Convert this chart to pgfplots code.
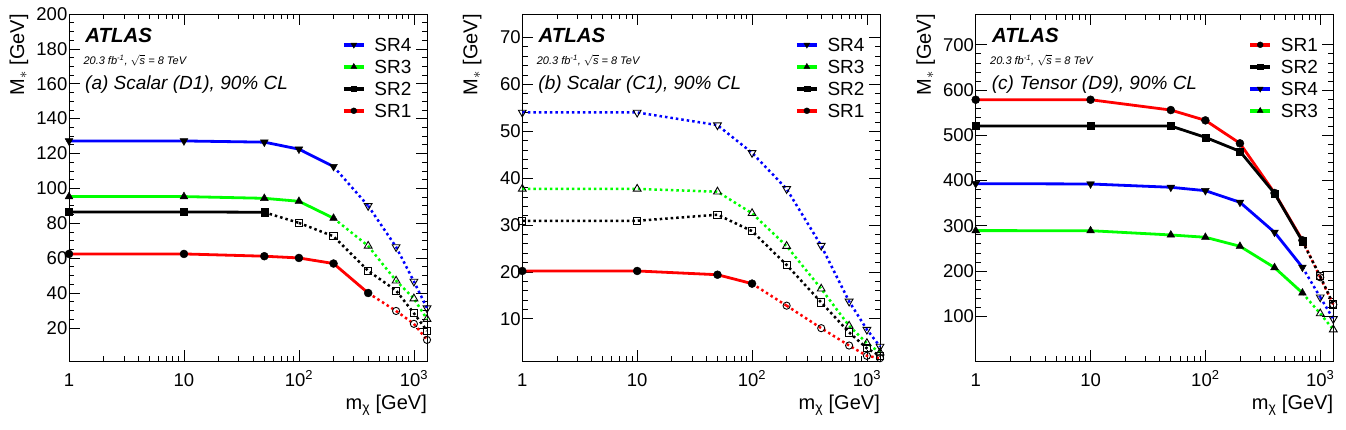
\documentclass[border=0pt]{standalone}
\usepackage{fontspec}
\setmainfont{Liberation Sans}
\usepackage{pgfplots}
\pgfplotsset{compat=1.18}
\definecolor{rblue}{RGB}{0,0,255}
\definecolor{rgreen}{RGB}{0,255,0}
\definecolor{rred}{RGB}{255,0,0}
\pgfplotsset{
  legend image code/.code={\draw[mark repeat=2,mark phase=2,#1] plot coordinates {(0pt,0pt) (10pt,0pt) (20pt,0pt)}; \path (28.7pt,0pt);},
  sl/.style={line width=2.8pt, forget plot, every mark/.append style={solid, black, fill=black, line width=0.4pt}},
  dl/.style={line width=2.5pt, dash pattern=on 2.5pt off 3pt, forget plot, every mark/.append style={solid, black, fill=none, line width=0.9pt}},
  lg/.style={line width=4pt, every mark/.append style={solid, black, fill=black, line width=0.3pt}},
  dn/.style={mark=triangle*, mark size=4.5pt, every mark/.append style={rotate=180}},
  dno/.style={mark=triangle, mark size=4.5pt, every mark/.append style={rotate=180}},
  upf/.style={mark=triangle*, mark size=4.5pt},
  upo/.style={mark=triangle, mark size=4.5pt},
  sqf/.style={mark=square*, mark size=3.6pt},
  sqo/.style={mark=square, mark size=3.6pt},
  cif/.style={mark=*, mark size=4pt},
  cio/.style={mark=o, mark size=3.6pt},
}
\newcommand{\panellabels}[1]{%
  \node[anchor=base west, inner sep=0pt, font=\fontsize{20.5}{22}\selectfont\bfseries\itshape] at (rel axis cs:0.045,0.917) {ATLAS};
  \node[anchor=base west, inner sep=0pt, font=\fontsize{11}{12}\selectfont\itshape] at (rel axis cs:0.04,0.855) {20.3 fb\textsuperscript{-1}, $\sqrt{\textit{s}}$ = 8 TeV};
  \node[anchor=base west, inner sep=0pt, font=\fontsize{19}{21}\selectfont\itshape] at (rel axis cs:0.0447,0.781) {#1};
}
\begin{document}
\begin{tikzpicture}
\useasboundingbox (0,0) rectangle (1346pt,429pt);
% ---------------- panel (a)
\begin{axis}[scale only axis, width=358pt, height=347pt, at={(69pt,68pt)}, anchor=south west,
    xmode=log, xmin=1, xmax=1300,
    xtick={1,10,100,1000},
    xticklabels={1,10,{10\textsuperscript{2}},{10\textsuperscript{3}}},
    tick label style={font=\fontsize{18.5}{20}\selectfont},
    /pgf/number format/assume math mode=true,
    yticklabel style={inner xsep=1.5pt},
    xticklabel style={anchor=base, yshift=-25pt},
    major tick length=11pt, minor tick length=5.5pt,
    every tick/.style={black, line width=0.7pt},
    axis line style={line width=0.8pt},
    clip=false,
    xlabel={m\textsubscript{χ} [GeV]},
    ylabel={M$_\ast$ [GeV]},
    label style={font=\fontsize{20}{22}\selectfont, inner sep=0pt},
    xlabel style={at={(rel axis cs:1,-0.127)}, anchor=east},
    ylabel style={at={(rel axis cs:-0.14,1)}, anchor=east},
    legend cell align=left,
    legend style={at={(rel axis cs:0.762,0.943)}, anchor=north west, draw=none, fill=none,
      inner sep=0pt, outer sep=0pt, font=\fontsize{19}{20}\selectfont, row sep=0pt, column sep=0pt,
      nodes={inner xsep=0pt, inner ysep=4pt, text height=14pt, text depth=0pt}},
    ymin=1, ymax=200, ytick={20,40,...,200}, minor y tick num=3]
\addplot[sl, rblue, dn] coordinates {(1,127.2)(10,127.2)(50,126.5)(100,122.5)(200,112.5)};
\addplot[dl, rblue, dno] coordinates {(400,90)(700,66.4)(1000,46.6)(1300,31.3)};
\addplot[dl, rblue, mark=none] coordinates {(200,112.5)(400,90)};
\addplot[sl, rgreen, upf] coordinates {(1,95.3)(10,95.3)(50,94.3)(100,92.6)(200,82.9)};
\addplot[dl, rgreen, upo] coordinates {(400,67)(700,47)(1000,36.8)(1300,25)};
\addplot[dl, rgreen, mark=none] coordinates {(200,82.9)(400,67)};
\addplot[sl, black, sqf] coordinates {(1,86.5)(10,86.5)(50,86.3)};
\addplot[dl, black, sqo] coordinates {(100,80.2)(200,72.5)(400,52.7)(700,41.4)(1000,28.4)(1300,18.3)};
\addplot[dl, black, mark=none] coordinates {(50,86.3)(100,80.2)};
\addplot[sl, rred, cif] coordinates {(1,62.4)(10,62.4)(50,61.1)(100,60.1)(200,56.9)(400,40)};
\addplot[dl, rred, cio] coordinates {(700,29.7)(1000,22.3)(1300,13.1)};
\addplot[dl, rred, mark=none] coordinates {(400,40)(700,29.7)};
\addlegendimage{lg, rblue, mark=triangle*, mark size=3.5pt, every mark/.append style={rotate=180}}
\addlegendentry{SR4}
\addlegendimage{lg, rgreen, mark=triangle*, mark size=3.5pt}
\addlegendentry{SR3}
\addlegendimage{lg, black, mark=square*, mark size=2.8pt}
\addlegendentry{SR2}
\addlegendimage{lg, rred, mark=*, mark size=3pt}
\addlegendentry{SR1}
\panellabels{(a) Scalar (D1), 90\% CL}
\end{axis}
% ---------------- panel (b)
\begin{axis}[scale only axis, width=357.7pt, height=347pt, at={(522.3pt,68pt)}, anchor=south west,
    xmode=log, xmin=1, xmax=1300,
    xtick={1,10,100,1000},
    xticklabels={1,10,{10\textsuperscript{2}},{10\textsuperscript{3}}},
    tick label style={font=\fontsize{18.5}{20}\selectfont},
    /pgf/number format/assume math mode=true,
    yticklabel style={inner xsep=1.5pt},
    xticklabel style={anchor=base, yshift=-25pt},
    major tick length=11pt, minor tick length=5.5pt,
    every tick/.style={black, line width=0.7pt},
    axis line style={line width=0.8pt},
    clip=false,
    xlabel={m\textsubscript{χ} [GeV]},
    ylabel={M$_\ast$ [GeV]},
    label style={font=\fontsize{20}{22}\selectfont, inner sep=0pt},
    xlabel style={at={(rel axis cs:1,-0.127)}, anchor=east},
    ylabel style={at={(rel axis cs:-0.14,1)}, anchor=east},
    legend cell align=left,
    legend style={at={(rel axis cs:0.762,0.943)}, anchor=north west, draw=none, fill=none,
      inner sep=0pt, outer sep=0pt, font=\fontsize{19}{20}\selectfont, row sep=0pt, column sep=0pt,
      nodes={inner xsep=0pt, inner ysep=4pt, text height=14pt, text depth=0pt}},
    ymin=1, ymax=75, ytick={10,20,...,70}, minor y tick num=4]
\addplot[dl, rblue, dno] coordinates {(1,54.0)(10,54.0)(50,51.3)(100,45.4)(200,37.7)(400,25.6)(700,13.7)(1000,7.7)(1300,4.1)};
\addplot[dl, rgreen, upo] coordinates {(1,37.7)(10,37.7)(50,37.1)(100,32.5)(200,25.5)(400,16.4)(700,8.5)(1000,4.8)(1300,2.8)};
\addplot[dl, black, sqo] coordinates {(1,30.9)(10,30.9)(50,32.2)(100,28.7)(200,21.5)(400,13.5)(700,7.1)(1000,3.7)(1300,2.1)};
\addplot[sl, rred, cif] coordinates {(1,20.2)(10,20.2)(50,19.4)(100,17.5)};
\addplot[dl, rred, cio] coordinates {(200,12.8)(400,8.0)(700,4.3)(1000,2.1)(1300,1.6)};
\addplot[dl, rred, mark=none] coordinates {(100,17.5)(200,12.8)};
\addlegendimage{lg, rblue, mark=triangle*, mark size=3.5pt, every mark/.append style={rotate=180}}
\addlegendentry{SR4}
\addlegendimage{lg, rgreen, mark=triangle*, mark size=3.5pt}
\addlegendentry{SR3}
\addlegendimage{lg, black, mark=square*, mark size=2.8pt}
\addlegendentry{SR2}
\addlegendimage{lg, rred, mark=*, mark size=3pt}
\addlegendentry{SR1}
\panellabels{(b) Scalar (C1), 90\% CL}
\end{axis}
% ---------------- panel (c)
\begin{axis}[scale only axis, width=357.6pt, height=347pt, at={(975.7pt,68pt)}, anchor=south west,
    xmode=log, xmin=1, xmax=1300,
    xtick={1,10,100,1000},
    xticklabels={1,10,{10\textsuperscript{2}},{10\textsuperscript{3}}},
    tick label style={font=\fontsize{18.5}{20}\selectfont},
    /pgf/number format/assume math mode=true,
    yticklabel style={inner xsep=1.5pt},
    xticklabel style={anchor=base, yshift=-25pt},
    major tick length=11pt, minor tick length=5.5pt,
    every tick/.style={black, line width=0.7pt},
    axis line style={line width=0.8pt},
    clip=false,
    xlabel={m\textsubscript{χ} [GeV]},
    ylabel={M$_\ast$ [GeV]},
    label style={font=\fontsize{20}{22}\selectfont, inner sep=0pt},
    xlabel style={at={(rel axis cs:1,-0.127)}, anchor=east},
    ylabel style={at={(rel axis cs:-0.14,1)}, anchor=east},
    legend cell align=left,
    legend style={at={(rel axis cs:0.762,0.943)}, anchor=north west, draw=none, fill=none,
      inner sep=0pt, outer sep=0pt, font=\fontsize{19}{20}\selectfont, row sep=0pt, column sep=0pt,
      nodes={inner xsep=0pt, inner ysep=4pt, text height=14pt, text depth=0pt}},
    ymin=1, ymax=768, ytick={100,200,...,700}, minor y tick num=4]
\addplot[sl, rred, cif] coordinates {(1,578.5)(10,578.5)(50,555.7)(100,532.9)(200,482.1)(400,372.4)(700,267.8)};
\addplot[dl, rred, cio] coordinates {(1000,186)(1300,125.8)};
\addplot[dl, rred, mark=none] coordinates {(700,267.8)(1000,186)};
\addplot[sl, black, sqf] coordinates {(1,520.4)(10,520.4)(50,520.4)(100,495.3)(200,464.4)(400,371.6)(700,265.6)};
\addplot[dl, black, sqo] coordinates {(1000,188.3)(1300,125.8)};
\addplot[dl, black, mark=none] coordinates {(700,265.6)(1000,188.3)};
\addplot[sl, rblue, dn] coordinates {(1,393)(10,392.3)(50,385)(100,377.5)(200,351.8)(400,285.5)(700,208.2)};
\addplot[dl, rblue, dno] coordinates {(1000,142)(1300,94)};
\addplot[dl, rblue, mark=none] coordinates {(700,208.2)(1000,142)};
\addplot[sl, rgreen, upf] coordinates {(1,289.2)(10,289)(50,279.6)(100,274.5)(200,254.6)(400,207.5)(700,151.5)};
\addplot[dl, rgreen, upo] coordinates {(1000,105.9)(1300,70.5)};
\addplot[dl, rgreen, mark=none] coordinates {(700,151.5)(1000,105.9)};
\addlegendimage{lg, rred, mark=*, mark size=3pt}
\addlegendentry{SR1}
\addlegendimage{lg, black, mark=square*, mark size=2.8pt}
\addlegendentry{SR2}
\addlegendimage{lg, rblue, mark=triangle*, mark size=3.5pt, every mark/.append style={rotate=180}}
\addlegendentry{SR4}
\addlegendimage{lg, rgreen, mark=triangle*, mark size=3.5pt}
\addlegendentry{SR3}
\panellabels{(c) Tensor (D9), 90\% CL}
\end{axis}
\end{tikzpicture}
\end{document}
